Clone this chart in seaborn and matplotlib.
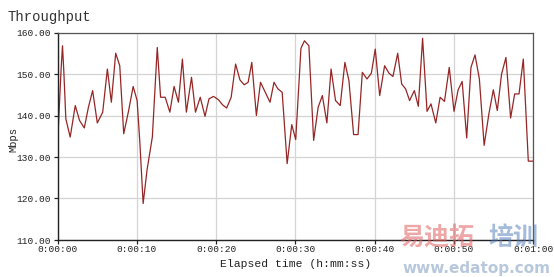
import matplotlib
matplotlib.use("Agg")
import matplotlib.pyplot as plt
import seaborn as sns
import pandas as pd

# ---- data ----
elapsed_s = [0.0, 0.45, 0.63, 0.8, 1.05, 1.6, 2.24, 2.78, 3.38, 3.9, 4.43, 5.02, 5.7,
             6.29, 6.79, 7.34, 7.85, 8.35, 8.95, 9.54, 10.04, 10.4, 10.8, 11.3, 11.96,
             12.58, 13.0, 13.58, 14.17, 14.7, 15.25, 15.75, 16.25, 16.9, 17.4, 18.0,
             18.6, 19.1, 19.67, 20.3, 20.8, 21.33, 21.9, 22.46, 23.0, 23.54, 24.04,
             24.5, 25.08, 25.6, 26.2, 26.8, 27.3, 27.8, 28.33, 28.96, 29.54, 30.04,
             30.7, 31.14, 31.7, 32.3, 32.87, 33.4, 33.97, 34.5, 35.06, 35.65, 36.24,
             36.75, 37.34, 37.9, 38.44, 39.03, 39.58, 40.07, 40.63, 41.25, 41.8, 42.3,
             42.9, 43.4, 43.9, 44.4, 45.0, 45.5, 46.04, 46.6, 47.1, 47.7, 48.25, 48.8,
             49.4, 50.0, 50.52, 51.03, 51.6, 52.14, 52.65, 53.2, 53.8, 54.4, 54.96,
             55.46, 56.0, 56.55, 57.14, 57.65, 58.2, 58.74, 59.37, 60.0]
throughput_mbps = [132.8, 151.0, 156.8, 150.5, 139.2, 134.8, 142.4, 138.8, 137.0, 142.0,
                   146.0, 138.2, 140.8, 151.2, 143.2, 155.0, 152.0, 135.6, 141.0, 147.0,
                   143.6, 133.0, 118.8, 127.0, 134.8, 156.4, 144.4, 144.4, 140.8, 147.0,
                   143.2, 153.6, 140.8, 149.2, 140.8, 144.4, 139.8, 144.0, 144.6, 143.8,
                   142.6, 141.8, 144.4, 152.4, 148.6, 147.4, 148.0, 152.8, 140.0, 148.0,
                   145.6, 143.2, 148.0, 146.4, 145.6, 128.4, 137.8, 134.2, 156.2, 158.0,
                   156.8, 134.0, 142.0, 144.8, 138.2, 151.2, 143.6, 142.4, 152.8, 148.4,
                   135.4, 135.4, 150.4, 148.8, 150.2, 156.0, 144.8, 152.0, 150.2, 149.4,
                   155.0, 147.6, 146.4, 143.6, 146.0, 142.2, 158.6, 141.0, 142.8, 138.2,
                   144.4, 143.4, 151.6, 141.0, 146.2, 148.2, 134.6, 151.6, 154.6, 148.8,
                   132.8, 140.4, 146.2, 141.2, 150.0, 154.0, 139.4, 145.2, 145.2, 153.6,
                   129.0, 129.0]
x_ticks = [0, 10, 20, 30, 40, 50, 60]
x_tick_labels = ["0:00:00", "0:00:10", "0:00:20", "0:00:30", "0:00:40", "0:00:50", "0:01:00"]
y_ticks = [110, 120, 130, 140, 150, 160]
y_tick_labels = ["110.00", "120.00", "130.00", "140.00", "150.00", "160.00"]

df = pd.DataFrame({"t": elapsed_s, "mbps": throughput_mbps})

sns.set_style("white")
plt.rcParams["font.family"] = ["Liberation Mono", "DejaVu Sans"]

fig = plt.figure(figsize=(5.54, 2.77), dpi=100)
ax = fig.add_axes([57.5 / 554, 1 - 240 / 277, (533.3 - 57.5) / 554, (240 - 32.5) / 277])

sns.lineplot(data=df, x="t", y="mbps", ax=ax, color="#962626", linewidth=0.9,
             estimator=None, sort=False)

ax.set_xlim(0, 60)
ax.set_ylim(110, 160)
ax.set_xticks(x_ticks)
ax.set_xticklabels(x_tick_labels, fontsize=6.8, color="#222222")
ax.set_yticks(y_ticks)
ax.set_yticklabels(y_tick_labels, fontsize=6.8, color="#222222")
ax.grid(True, color="#D4D4D4", linewidth=0.9)
ax.set_axisbelow(True)
ax.tick_params(axis="both", which="both", direction="out", length=3, width=0.9,
               color="#222222", pad=1.5, left=True, bottom=True)
ax.tick_params(axis="x", pad=0.5)

for side in ["left", "bottom"]:
    ax.spines[side].set_color("#222222")
    ax.spines[side].set_linewidth(1.0)
for side in ["top", "right"]:
    ax.spines[side].set_color("#555555")
    ax.spines[side].set_linewidth(0.9)

ax.set_xlabel("Elapsed time (h:mm:ss)", fontsize=8.2, color="#222222", labelpad=4)
ax.set_ylabel("")
fig.text(13 / 554, 1 - 140 / 277, "Mbps", fontsize=7.5, color="#222222",
         rotation=90, ha="center", va="center")

fig.text(8 / 554, 1 - 17 / 277, "Throughput", fontsize=10, color="#333333",
         ha="left", va="center")

# watermark
fig.text(399 / 554, 1 - 238 / 277, "易迪拓", fontsize=18, color="#E06060", alpha=0.55,
         ha="left", va="center", family=["Noto Sans CJK SC", "DejaVu Sans"], fontweight="bold")
fig.text(488 / 554, 1 - 238 / 277, "培训", fontsize=18, color="#4A78B8", alpha=0.5,
         ha="left", va="center", family=["Noto Sans CJK SC", "DejaVu Sans"], fontweight="bold")
fig.text(476 / 554, 1 - 269 / 277, "www.edatop.com", fontsize=11, color="#7F9CC0", alpha=0.55,
         ha="center", va="center", family=["DejaVu Sans"], fontweight="bold")

fig.savefig("out.png", dpi=100, facecolor="white")
